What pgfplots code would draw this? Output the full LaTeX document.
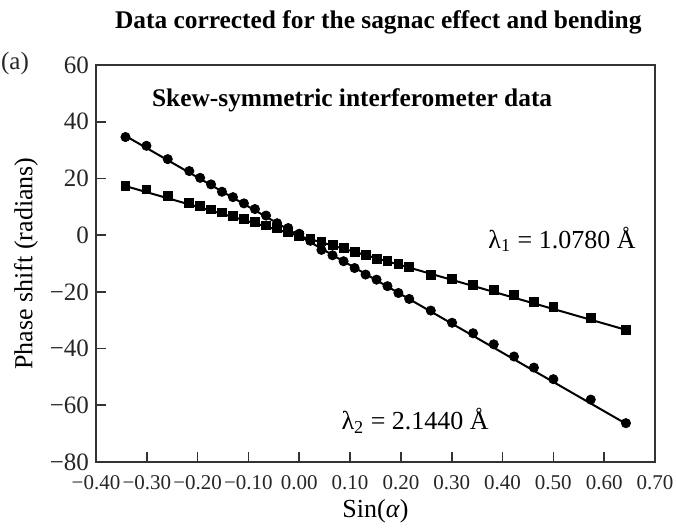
\documentclass[border=0pt]{standalone}
\usepackage{fontspec}
\setmainfont{Liberation Serif}
\usepackage{pgfplots}
\pgfplotsset{compat=1.18}
\usetikzlibrary{calc}
\begin{document}
\begin{tikzpicture}
\begin{axis}[
  name=ax,
  scale only axis, width=279.5pt, height=198.5pt,
  xmin=-0.4, xmax=0.7, ymin=-80, ymax=60,
  xtick={-0.4,-0.3,-0.2,-0.1,0,0.1,0.2,0.3,0.4,0.5,0.6,0.7},
  xticklabels={−0.40,−0.30,−0.20,−0.10,0.00,0.10,0.20,0.30,0.40,0.50,0.60,0.70},
  ytick={-80,-60,-40,-20,0,20,40,60},
  yticklabels={−80,−60,−40,−20,0,20,40,60},
  tick align=inside, xtick pos=bottom, ytick pos=left,
  major tick length=5pt,
  axis line style={line width=0.9pt, black!80},
  tick style={line width=0.8pt, black!80},
  xticklabel style={font=\fontsize{10.5}{12}\selectfont, text=black!85, yshift=-3pt},
  yticklabel style={font=\fontsize{12.5}{14}\selectfont, text=black!85},
  xlabel={Sin(\textit{α})}, ylabel={Phase shift (radians)},
  every axis x label/.style={at={(rel axis cs:0.5,0)}, yshift=-24.5pt, anchor=center, font=\fontsize{13}{15}\selectfont},
  every axis y label/.style={at={(rel axis cs:0,0.5)}, xshift=-35pt, rotate=90, anchor=center, font=\fontsize{13}{15}\selectfont},
  clip=false,
]
\addplot[black, line width=1pt] coordinates {(-0.3420,17.3) (0.6428,-33.4)};
\addplot[black, line width=1pt] coordinates {(-0.3420,35.0) (0.6428,-66.5)};
\addplot[only marks, mark=square*, mark size=2.2pt, black] coordinates {
(-0.3420,17.4) (-0.3007,16.1) (-0.2588,13.9) (-0.2164,11.5) (-0.1951,10.4) (-0.1736,9.1)
(-0.1521,8.0) (-0.1305,6.9) (-0.1089,5.7) (-0.0872,4.6) (-0.0654,3.4) (-0.0436,2.5)
(-0.0218,1.0) (0,-0.2) (0.0218,-1.3) (0.0436,-2.2) (0.0654,-3.4) (0.0872,-4.6)
(0.1089,-6.0) (0.1305,-7.1) (0.1521,-8.3) (0.1736,-9.2) (0.1951,-10.2) (0.2164,-11.3)
(0.2588,-13.9) (0.3007,-15.3) (0.3420,-17.6) (0.3827,-19.4) (0.4226,-21.2) (0.4617,-23.6)
(0.5,-25.4) (0.5736,-29.1) (0.6428,-33.4)};
\addplot[only marks, mark=*, mark size=2.3pt, black] coordinates {
(-0.3420,34.6) (-0.3007,31.5) (-0.2588,26.8) (-0.2164,22.6) (-0.1951,20.2) (-0.1736,17.9)
(-0.1521,15.3) (-0.1305,13.4) (-0.1089,11.2) (-0.0872,9.2) (-0.0654,6.9) (-0.0436,4.2)
(-0.0218,2.5) (0,0.5) (0.0218,-2.0) (0.0436,-5.2) (0.0654,-7.1) (0.0872,-9.2)
(0.1089,-11.6) (0.1305,-13.9) (0.1521,-15.7) (0.1736,-18.0) (0.1951,-20.4) (0.2164,-22.5)
(0.2588,-26.6) (0.3007,-30.9) (0.3420,-34.6) (0.3827,-38.5) (0.4226,-42.8) (0.4617,-46.7)
(0.5,-50.8) (0.5736,-58.0) (0.6428,-66.3)};
\node[font=\fontsize{12.7}{14}\selectfont\bfseries, anchor=base] at (rel axis cs:0.505,1) [yshift=18pt] {Data corrected for the sagnac effect and bending};
\node[font=\fontsize{12.5}{14}\selectfont, text=black!85] at (rel axis cs:0,1) [xshift=-40.5pt, yshift=1pt] {(a)};
\node[font=\fontsize{12.7}{14}\selectfont\bfseries] at (axis cs:0.104,47.5) {Skew-symmetric interferometer data};
\node[font=\fontsize{13}{15}\selectfont] at (axis cs:0.517,-1.5) {λ\textsubscript{1} = 1.0780 Å};
\node[font=\fontsize{13}{15}\selectfont] at (axis cs:0.228,-65.5) {λ\textsubscript{2} = 2.1440 Å};
\end{axis}
\pgfresetboundingbox
\path[use as bounding box] ($(ax.south west)+(-48pt,-33.5pt)$) rectangle ($(ax.north east)+(10.5pt,32.5pt)$);
\end{tikzpicture}
\end{document}
